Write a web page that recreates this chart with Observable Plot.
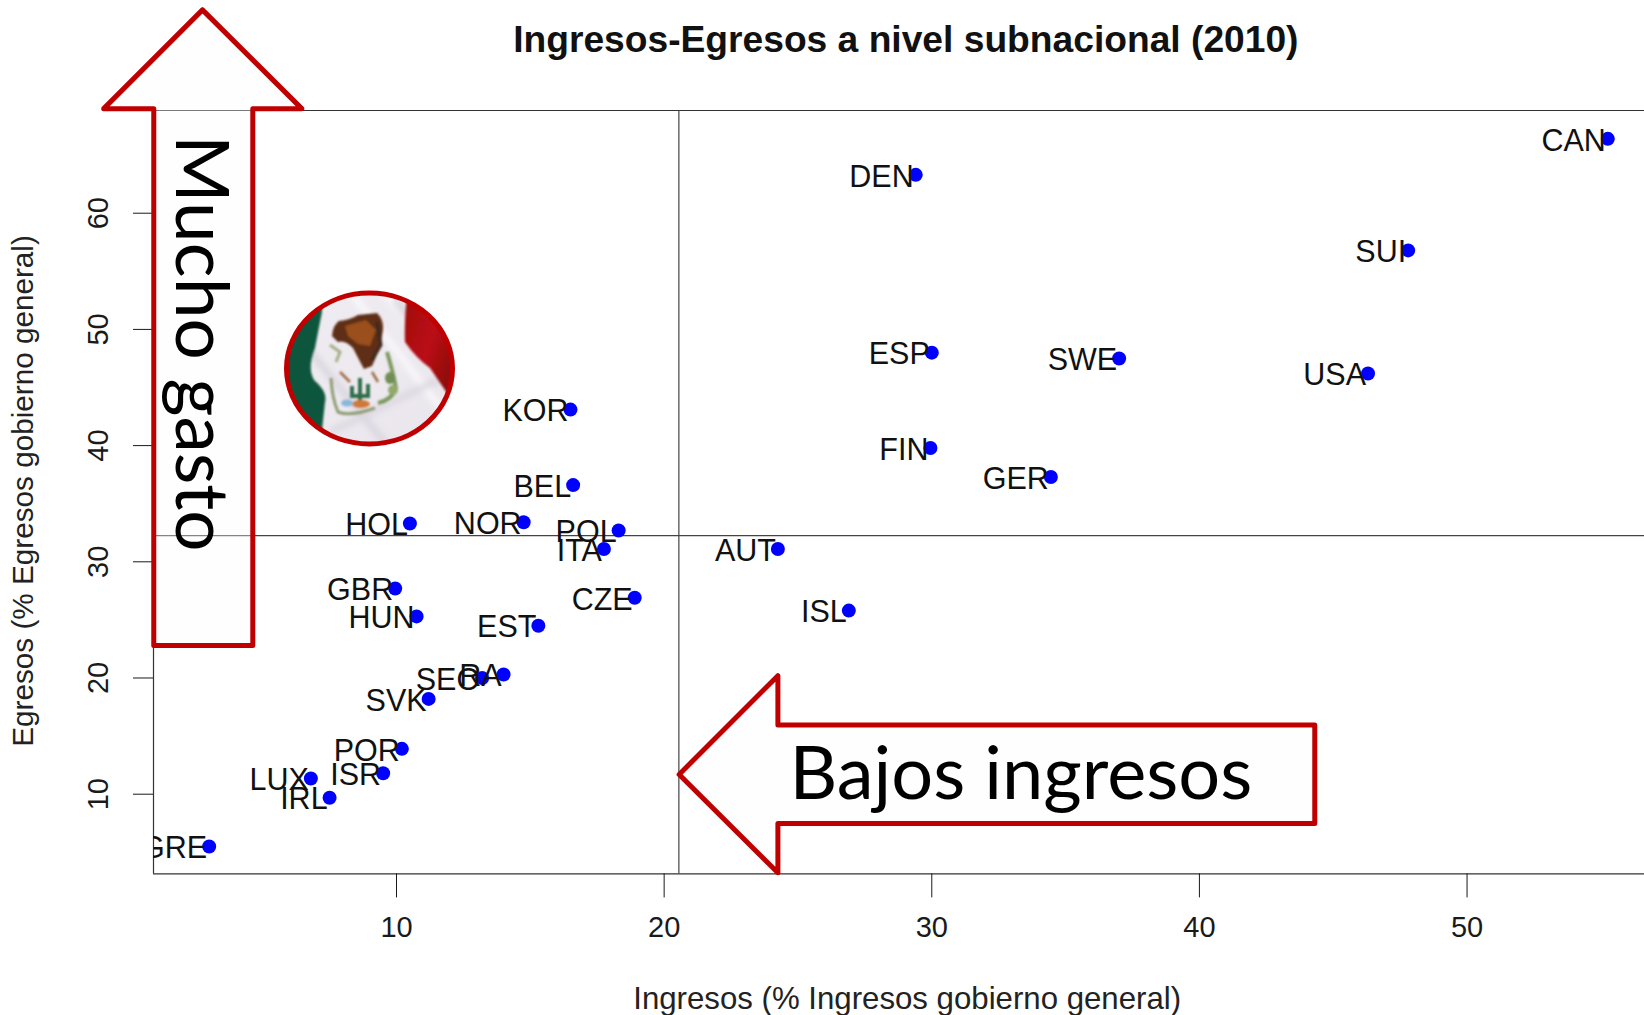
<!DOCTYPE html>
<html><head><meta charset="utf-8">
<script src="https://cdn.jsdelivr.net/npm/d3@7"></script>
<script src="https://cdn.jsdelivr.net/npm/@observablehq/plot@0.6"></script>
<style>html,body{margin:0;padding:0;background:#fff;overflow:hidden}svg{display:block}</style>
</head><body><div id="chart"></div>
<script>
const countries=["CAN","DEN","SUI","ESP","SWE","USA","KOR","FIN","GER","BEL","HOL","NOR","POL","ITA","AUT","GBR","HUN","CZE","ISL","EST","RA","SEO","SVK","POR","ISR","LUX","IRL","GRE"];
const ingresos=[55.26,29.4,47.8,30,37,46.3,16.5,29.95,34.45,16.6,10.5,14.75,18.3,17.75,24.25,9.95,10.75,18.9,26.9,15.3,14,13.2,11.2,10.2,9.5,6.8,7.5,3];
const egresos=[66.4,63.3,56.8,48,47.5,46.2,43.1,39.8,37.3,36.6,33.3,33.4,32.7,31.1,31.1,27.7,25.3,26.9,25.8,24.5,20.3,20,18.2,13.9,11.8,11.35,9.7,5.5];
const xTicks=[10,20,30,40,50];
const yTicks=[10,20,30,40,50,60];
const xDomain=[0.92,56.63];
const yDomain=[3.14,68.84];
const meanIngresos=20.55;
const meanEgresos=32.25;
const upArrowX=[2.75,6.46,4.63,4.63,0.93,0.93,-0.94,2.75];
const upArrowY=[77.5,69,69,22.8,22.8,69,69,77.5];
const leftArrowX=[20.56,24.25,24.25,44.31,44.31,24.25,24.25,20.56];
const leftArrowY=[11.7,20.2,15.96,15.96,7.47,7.47,3.23,11.7];
const titleText="Ingresos-Egresos a nivel subnacional (2010)";
const xLabel="Ingresos (% Ingresos gobierno general)";
const yLabel="Egresos (% Egresos gobierno general)";

const points=countries.map((c,i)=>({c,x:ingresos[i],y:egresos[i]}));
const poly=(xs,ys)=>xs.map((x,i)=>({x,y:ys[i]}));
const red="#c00000", ink="#1a1a1a", sans="Liberation Sans, Arial, sans-serif";
const arrowStyle={x:"x",y:"y",fill:"#fbfbfb",fillOpacity:0.35,stroke:red,strokeWidth:5,strokeLinejoin:"round"};

const plot=Plot.plot({
  width:1644,height:1015,
  marginLeft:153,marginRight:0,marginTop:110,marginBottom:141.6,
  style:{fontFamily:sans,background:"#fff",color:ink,overflow:"visible"},
  x:{domain:xDomain},y:{domain:yDomain},
  marks:[
    Plot.ruleY([yDomain[0],yDomain[1]],{stroke:"#333",strokeWidth:1.2}),
    Plot.ruleX([xDomain[0]],{stroke:"#333",strokeWidth:1.2}),
    Plot.ruleX([meanIngresos],{stroke:"#444",strokeWidth:1.2}),
    Plot.ruleY([meanEgresos],{stroke:"#444",strokeWidth:1.2}),
    Plot.axisX({ticks:xTicks,tickSize:24,tickPadding:19,fontSize:29,label:null,tickFormat:d=>d}),
    Plot.axisY({ticks:yTicks,tickSize:20,tickPadding:26,fontSize:29,tickRotate:-90,label:null,tickFormat:d=>d}),
    Plot.line(poly(upArrowX,upArrowY),arrowStyle),
    Plot.line(poly(leftArrowX,leftArrowY),arrowStyle),
    Plot.dot(points,{x:"x",y:"y",r:7,fill:"#0000ff"}),
    Plot.text(points,{x:"x",y:"y",text:"c",textAnchor:"end",dx:-2,dy:2,fontSize:30.5,fill:"#111",clip:"frame"}),
    Plot.text(["Mucho gasto"],{x:[2.63],y:[48.8],rotate:90,fontFamily:"Lato",fontSize:73,fill:"#000"}),
    Plot.text(["Bajos ingresos"],{x:[33.33],y:[11.6],fontFamily:"Lato",fontSize:74,fill:"#000"}),
    Plot.text([titleText],{x:[29.03],y:[74.9],fontWeight:"bold",fontSize:37.2,fill:"#111"}),
    Plot.text([xLabel],{x:[29.08],y:[-7.65],fontSize:31.2,fill:"#222"}),
    Plot.text([yLabel],{x:[-3.95],y:[36.1],rotate:-90,fontSize:29.7,fill:"#222"})
  ]
});
document.getElementById("chart").append(plot);

// hand-drawn stand-in for the flag photograph
const svg=d3.select(plot);
const defs=svg.append("defs");
defs.append("clipPath").attr("id","flagClip").append("ellipse").attr("cx",369.5).attr("cy",368.5).attr("rx",83).attr("ry",75.5);
defs.append("filter").attr("id","soft").append("feGaussianBlur").attr("stdDeviation",1.1);
defs.append("filter").attr("id","softer").append("feGaussianBlur").attr("stdDeviation",3);
const lg=defs.append("linearGradient").attr("id","cloth").attr("x1",0).attr("y1",0).attr("x2",1).attr("y2",1);
lg.append("stop").attr("offset",0).attr("stop-color","#f0edf2");
lg.append("stop").attr("offset",1).attr("stop-color","#e9e5ec");
const rg=defs.append("linearGradient").attr("id","redCloth").attr("x1",0).attr("y1",0).attr("x2",1).attr("y2",.6);
rg.append("stop").attr("offset",0).attr("stop-color","#9c0c0e");
rg.append("stop").attr("offset",.55).attr("stop-color","#bb1114");
rg.append("stop").attr("offset",1).attr("stop-color","#880a0b");
const c=svg.append("g").attr("clip-path","url(#flagClip)");
c.append("rect").attr("x",280).attr("y",285).attr("width",180).attr("height",170).attr("fill","url(#cloth)");
const folds=c.append("g").attr("filter","url(#softer)");
[["M345 285 L450 420","#fbf9fc"],["M305 345 L395 455","#d9d4de"],["M378 285 L462 385","#fbfafc"],["M395 300 L430 345","#d6d1da"],["M330 432 L455 372","#dcd7e0"]].forEach(([d,s])=>folds.append("path").attr("d",d).attr("stroke",s).attr("stroke-width",6).attr("fill","none"));
const art=c.append("g").attr("filter","url(#soft)");
art.append("path").attr("d","M280 285 L322 285 L322 312 Q318 332 315 348 Q307 368 314 380 Q328 392 325 402 L322 430 L322 455 L280 455 Z").attr("fill","#10573d");
art.append("path").attr("d","M408 285 Q404 320 405 342 Q416 358 430 368 L447 393 L462 393 L462 285 Z").attr("fill","url(#redCloth)");
art.append("path").attr("d","M332 336 Q333 325 339 321 Q350 320 358 315 L377 313 Q384 320 383 330 L380 348 L372 366 L364 369 Q358 358 353 348 Q345 340 338 342 Z").attr("fill","#5f2d12");
art.append("path").attr("d","M345 326 L366 320 L376 330 L370 346 L358 344 L348 336 Z").attr("fill","#9a4f1c");
art.append("path").attr("d","M377 322 L381 345 L372 360").attr("fill","none").attr("stroke","#3a2a22").attr("stroke-width",3);
art.append("path").attr("d","M330 345 L340 352 L336 362").attr("fill","none").attr("stroke","#a7ad86").attr("stroke-width",3);
art.append("path").attr("d","M387 352 Q393 372 396 388 Q392 400 378 403").attr("fill","none").attr("stroke","#7d9a5e").attr("stroke-width",4);
art.append("ellipse").attr("cx",390).attr("cy",378).attr("rx",5).attr("ry",6).attr("fill","#6f8f52");
art.append("ellipse").attr("cx",393).attr("cy",390).attr("rx",5).attr("ry",5).attr("fill","#93a96c");
art.append("path").attr("d","M331 378 Q332 398 338 412 Q350 417 375 408").attr("fill","none").attr("stroke","#8e9d74").attr("stroke-width",3);
art.append("path").attr("d","M360 378 L360 402 M352 386 L352 396 L368 396 L368 384").attr("fill","none").attr("stroke","#2f6d4a").attr("stroke-width",4);
art.append("path").attr("d","M340 372 L350 382 M372 372 L378 382").attr("fill","none").attr("stroke","#9c6a45").attr("stroke-width",2.5);
art.append("ellipse").attr("cx",361).attr("cy",404).attr("rx",9).attr("ry",4).attr("fill","#d0783a");
art.append("ellipse").attr("cx",347).attr("cy",403).attr("rx",6).attr("ry",3.5).attr("fill","#8ab7da");
svg.append("ellipse").attr("cx",369.5).attr("cy",368.5).attr("rx",83).attr("ry",75.5).attr("fill","none").attr("stroke",red).attr("stroke-width",5);
</script></body></html>
